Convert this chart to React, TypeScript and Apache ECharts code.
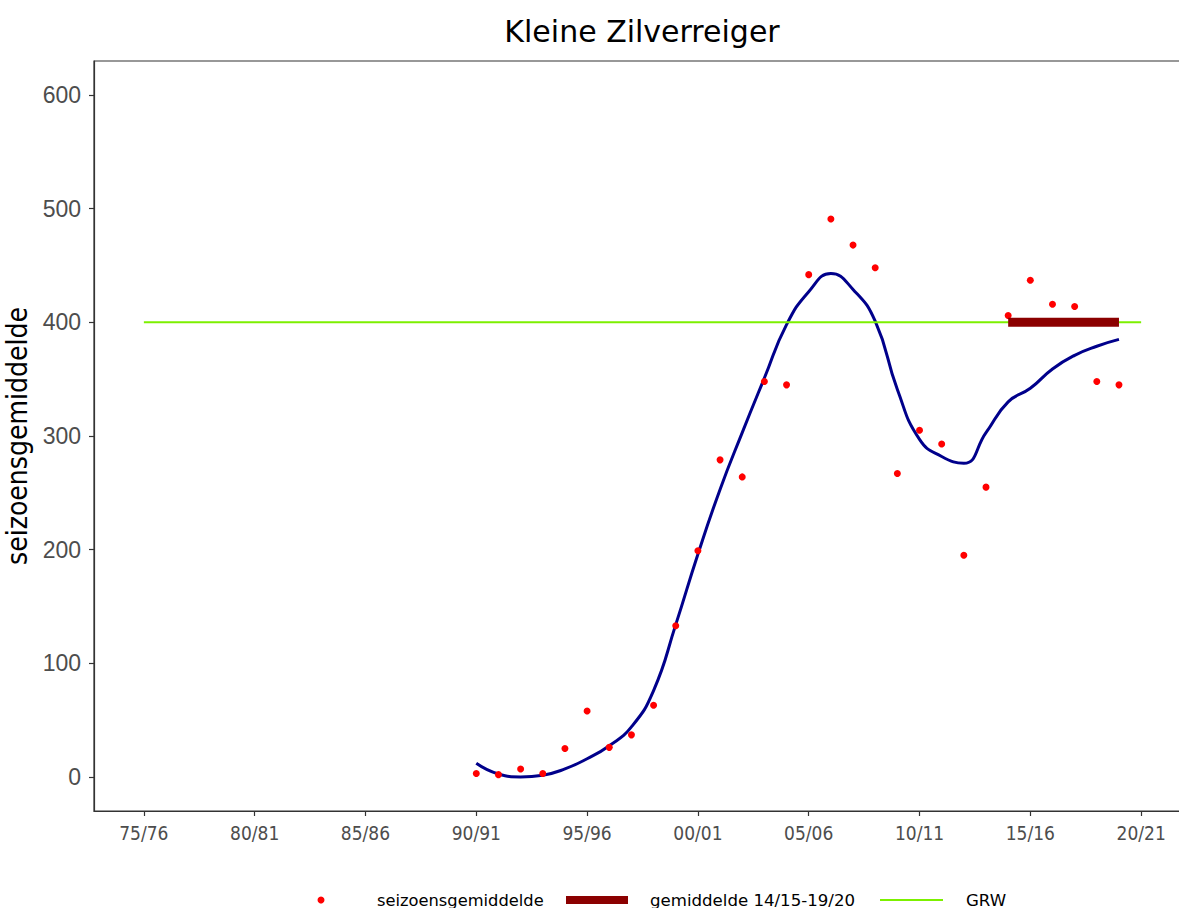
import React, { useEffect, useRef } from "react";
import * as echarts from "echarts";

const seasonStart = [
  1990, 1991, 1992, 1993, 1994, 1995, 1996, 1997, 1998, 1999,
  2000, 2001, 2002, 2003, 2004, 2005, 2006, 2007, 2008, 2009,
  2010, 2011, 2012, 2013, 2014, 2015, 2016, 2017, 2018, 2019,
];
const seizoensgemiddelde = [
  3, 2, 7, 3, 25, 58, 26, 37, 63, 133,
  199, 279, 264, 348, 345, 442, 491, 468, 448, 267,
  305, 293, 195, 255, 406, 437, 416, 414, 348, 345,
];
const trend = [
  12, 2.6, 0, 1.5, 7, 16, 27.5, 44, 76, 134,
  196, 253, 303, 351, 398, 427, 443, 429, 401, 341,
  297, 282, 276, 303, 330, 342, 359, 371, 379, 385,
];
const gemiddeldeYears = [2014, 2019];
const gemiddeldeValue = 400;
const grwYears = [1975, 2020];
const grwValue = 400;
const xTickYears = [1975, 1980, 1985, 1990, 1995, 2000, 2005, 2010, 2015, 2020];
const yTicks = [0, 100, 200, 300, 400, 500, 600];

const pad2 = (n: number) => String(((n % 100) + 100) % 100).padStart(2, "0");
const seasonLabel = (v: number) => `${pad2(v)}/${pad2(v + 1)}`;

const TAHOMA = "DejaVu Sans, Verdana, sans-serif";
const CONDENSED = "DejaVu Sans Condensed, DejaVu Sans, sans-serif";

export default function App() {
  const ref = useRef<HTMLDivElement>(null);
  useEffect(() => {
    document.documentElement.style.overflow = "hidden";
    document.body.style.overflow = "hidden";
    const chart = echarts.init(ref.current!, null, { renderer: "svg" });
    const legendY = 900;
    chart.setOption({
      animation: false,
      backgroundColor: "#ffffff",
      title: {
        text: "Kleine Zilverreiger",
        left: 637,
        top: 11,
        textAlign: "center",
        textStyle: { fontFamily: TAHOMA, fontSize: 30, fontWeight: "normal", color: "#000" },
      },
      grid: {
        left: 94,
        top: 61,
        width: 1097,
        height: 750,
        show: true,
        borderColor: "#333",
        borderWidth: 1.2,
        containLabel: false,
        outerBoundsMode: "none",
      },
      xAxis: {
        type: "value",
        min: 1972.75,
        max: 2022.25,
        splitLine: { show: false },
        axisLine: { show: true, onZero: false, lineStyle: { color: "#333", width: 1.2 } },
        axisTick: { show: true, customValues: xTickYears, length: 5, lineStyle: { color: "#333", width: 1.2 } },
        axisLabel: {
          customValues: xTickYears,
          formatter: (v: number) => seasonLabel(v),
          margin: 12,
          fontFamily: CONDENSED,
          fontSize: 19,
          color: "#4d4d4d",
        },
      },
      yAxis: {
        type: "value",
        min: -30,
        max: 630,
        name: "seizoensgemiddelde",
        nameLocation: "middle",
        nameRotate: 90,
        nameGap: 55,
        nameTextStyle: {
          fontFamily: CONDENSED,
          fontSize: 28,
          color: "#000",
        },
        splitLine: { show: false },
        axisLine: { show: true, onZero: false, lineStyle: { color: "#333", width: 1.2 } },
        axisTick: { show: true, customValues: yTicks, length: 5, lineStyle: { color: "#333", width: 1.2 } },
        axisLabel: {
          customValues: yTicks,
          margin: 13,
          fontFamily: "Liberation Sans, Arial, sans-serif",
          fontSize: 23,
          color: "#4d4d4d",
        },
      },
      series: [
        {
          name: "trend",
          type: "line",
          data: seasonStart.map((x, i) => [x, trend[i]]),
          smooth: 0.5,
          showSymbol: false,
          lineStyle: { color: "#00008B", width: 3 },
          z: 2,
        },
        {
          name: "seizoensgemiddelde",
          type: "scatter",
          data: seasonStart.map((x, i) => [x, seizoensgemiddelde[i]]),
          symbolSize: 7,
          itemStyle: { color: "#ff0000", opacity: 1 },
          z: 3,
        },
        {
          name: "GRW",
          type: "line",
          data: grwYears.map((x) => [x, grwValue]),
          showSymbol: false,
          lineStyle: { color: "#7CF000", width: 2 },
          z: 4,
        },
        {
          name: "gemiddelde 14/15-19/20",
          type: "line",
          data: gemiddeldeYears.map((x) => [x, gemiddeldeValue]),
          showSymbol: false,
          lineStyle: { color: "#8B0000", width: 9, cap: "butt" },
          z: 5,
        },
      ],
      graphic: [
        { type: "circle", shape: { cx: 321, cy: legendY, r: 3.5 }, style: { fill: "#ff0000" } },
        {
          type: "text",
          x: 377,
          y: legendY,
          style: { text: "seizoensgemiddelde", fontFamily: TAHOMA, fontSize: 16.3, fill: "#000", verticalAlign: "middle" },
        },
        { type: "rect", shape: { x: 566, y: legendY - 4, width: 62, height: 8 }, style: { fill: "#8B0000" } },
        {
          type: "text",
          x: 650,
          y: legendY,
          style: { text: "gemiddelde 14/15-19/20", fontFamily: TAHOMA, fontSize: 16.6, fill: "#000", verticalAlign: "middle" },
        },
        {
          type: "line",
          shape: { x1: 880, y1: legendY, x2: 943, y2: legendY },
          style: { stroke: "#7CF000", lineWidth: 2 },
        },
        {
          type: "text",
          x: 966,
          y: legendY,
          style: { text: "GRW", fontFamily: TAHOMA, fontSize: 16.6, fill: "#000", verticalAlign: "middle" },
        },
      ],
    });
    return () => chart.dispose();
  }, []);
  return (
    <div
      ref={ref}
      style={{ position: "fixed", left: 0, top: 0, width: 1200, height: 920 }}
    />
  );
}
